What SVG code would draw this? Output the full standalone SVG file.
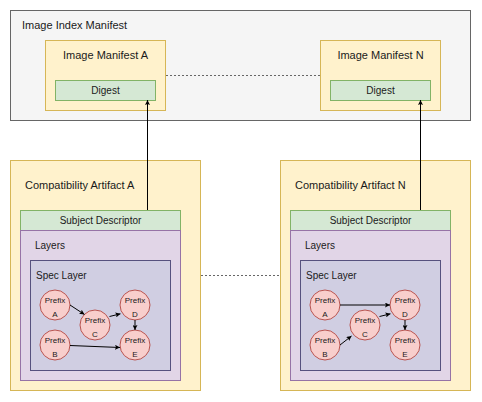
<svg xmlns="http://www.w3.org/2000/svg" width="482" height="402" viewBox="0 0 482 402">
<defs>
<style>
text{font-family:"Liberation Sans",Arial,sans-serif;fill:#1a1a1a}
.t11{font-size:11px}
.t10{font-size:10px}
.t8{font-size:8px}
.mid{text-anchor:middle}
.idx{fill:#f5f5f5;stroke:#666666}
.yel{fill:#fff2cc;stroke:#d6b656}
.grn{fill:#d5e8d4;stroke:#82b366}
.pur{fill:#e1d5e7;stroke:#9673a6}
.spec{fill:#d0cee2;stroke:#56517e}
.cir{fill:#f8cecc;stroke:#b85450}
.edge{stroke:#000;stroke-width:1;fill:none}
.dot{stroke:#666666;stroke-width:1;fill:none;stroke-dasharray:2 2}
</style>
<marker id="ah" viewBox="0 0 10 10" refX="10" refY="5" markerWidth="5" markerHeight="5" orient="auto" markerUnits="userSpaceOnUse">
<path d="M0,0 L10,5 L0,10 L2,5 Z" fill="#000"/>
</marker>
</defs>

<g id="image-index-manifest">
<rect class="idx" x="10.5" y="10.5" width="460" height="110"/>
<text class="t11" x="22" y="29">Image Index Manifest</text>
</g>

<g id="image-manifest-a">
<rect class="yel" x="45.5" y="40.5" width="120" height="70"/>
<text class="t11 mid" x="105.5" y="59">Image Manifest A</text>
</g>
<g id="digest-a">
<rect class="grn" x="55.5" y="80.5" width="100" height="20"/>
<text class="t10 mid" x="105.5" y="94">Digest</text>
</g>

<g id="image-manifest-n">
<rect class="yel" x="320.5" y="40.5" width="120" height="70"/>
<text class="t11 mid" x="380.5" y="59">Image Manifest N</text>
</g>
<g id="digest-n">
<rect class="grn" x="330.5" y="80.5" width="100" height="20"/>
<text class="t10 mid" x="380.5" y="94">Digest</text>
</g>

<g id="compat-a">
<rect class="yel" x="10.5" y="160.5" width="190" height="230"/>
<text class="t11" x="25" y="189">Compatibility Artifact A</text>
</g>
<g id="subject-a">
<rect class="grn" x="20.5" y="210.5" width="160" height="20"/>
<text class="t10 mid" x="100.5" y="224">Subject Descriptor</text>
</g>
<g id="layers-a">
<rect class="pur" x="20.5" y="230.5" width="160" height="150"/>
<text class="t10" x="35" y="249">Layers</text>
</g>
<g id="spec-a">
<rect class="spec" x="30.5" y="260.5" width="140" height="110"/>
<text class="t10" x="36" y="279">Spec Layer</text>
</g>
<g id="a-prefix-a"><circle class="cir" cx="55" cy="305" r="15"/><text class="t8 mid" x="55" y="303">Prefix</text><text class="t8 mid" x="55" y="317">A</text></g>
<g id="a-prefix-b"><circle class="cir" cx="55" cy="345" r="15"/><text class="t8 mid" x="55" y="343">Prefix</text><text class="t8 mid" x="55" y="357">B</text></g>
<g id="a-prefix-c"><circle class="cir" cx="95" cy="325" r="15"/><text class="t8 mid" x="95" y="323">Prefix</text><text class="t8 mid" x="95" y="337">C</text></g>
<g id="a-prefix-d"><circle class="cir" cx="135" cy="305" r="15"/><text class="t8 mid" x="135" y="303">Prefix</text><text class="t8 mid" x="135" y="317">D</text></g>
<g id="a-prefix-e"><circle class="cir" cx="135" cy="345" r="15"/><text class="t8 mid" x="135" y="343">Prefix</text><text class="t8 mid" x="135" y="357">E</text></g>

<g id="compat-n">
<rect class="yel" x="280.5" y="160.5" width="190" height="230"/>
<text class="t11" x="295" y="189">Compatibility Artifact N</text>
</g>
<g id="subject-n">
<rect class="grn" x="290.5" y="210.5" width="160" height="20"/>
<text class="t10 mid" x="370.5" y="224">Subject Descriptor</text>
</g>
<g id="layers-n">
<rect class="pur" x="290.5" y="230.5" width="160" height="150"/>
<text class="t10" x="305" y="249">Layers</text>
</g>
<g id="spec-n">
<rect class="spec" x="300.5" y="260.5" width="140" height="110"/>
<text class="t10" x="306" y="279">Spec Layer</text>
</g>
<g id="n-prefix-a"><circle class="cir" cx="325" cy="305" r="15"/><text class="t8 mid" x="325" y="303">Prefix</text><text class="t8 mid" x="325" y="317">A</text></g>
<g id="n-prefix-b"><circle class="cir" cx="325" cy="345" r="15"/><text class="t8 mid" x="325" y="343">Prefix</text><text class="t8 mid" x="325" y="357">B</text></g>
<g id="n-prefix-c"><circle class="cir" cx="365" cy="325" r="15"/><text class="t8 mid" x="365" y="323">Prefix</text><text class="t8 mid" x="365" y="337">C</text></g>
<g id="n-prefix-d"><circle class="cir" cx="405" cy="305" r="15"/><text class="t8 mid" x="405" y="303">Prefix</text><text class="t8 mid" x="405" y="317">D</text></g>
<g id="n-prefix-e"><circle class="cir" cx="405" cy="345" r="15"/><text class="t8 mid" x="405" y="343">Prefix</text><text class="t8 mid" x="405" y="357">E</text></g>

<g id="connectors">
<line class="dot" x1="166" y1="75.5" x2="320" y2="75.5"/>
<line class="dot" x1="201" y1="275.5" x2="280" y2="275.5"/>
<line class="edge" x1="147.5" y1="210" x2="147.5" y2="100" marker-end="url(#ah)"/>
<line class="edge" x1="420.5" y1="210" x2="420.5" y2="100" marker-end="url(#ah)"/>
<line class="edge" x1="70" y1="305" x2="84.5" y2="314.5" marker-end="url(#ah)"/>
<line class="edge" x1="109.5" y1="316.5" x2="120.5" y2="313.8" marker-end="url(#ah)"/>
<line class="edge" x1="135" y1="320" x2="135" y2="330" marker-end="url(#ah)"/>
<line class="edge" x1="70" y1="345.5" x2="120" y2="347.5" marker-end="url(#ah)"/>
<line class="edge" x1="340" y1="305" x2="390" y2="305" marker-end="url(#ah)"/>
<line class="edge" x1="340" y1="345" x2="351.5" y2="336" marker-end="url(#ah)"/>
<line class="edge" x1="379.5" y1="316.5" x2="390.5" y2="313.8" marker-end="url(#ah)"/>
<line class="edge" x1="405" y1="320" x2="405" y2="330" marker-end="url(#ah)"/>
</g>
</svg>
